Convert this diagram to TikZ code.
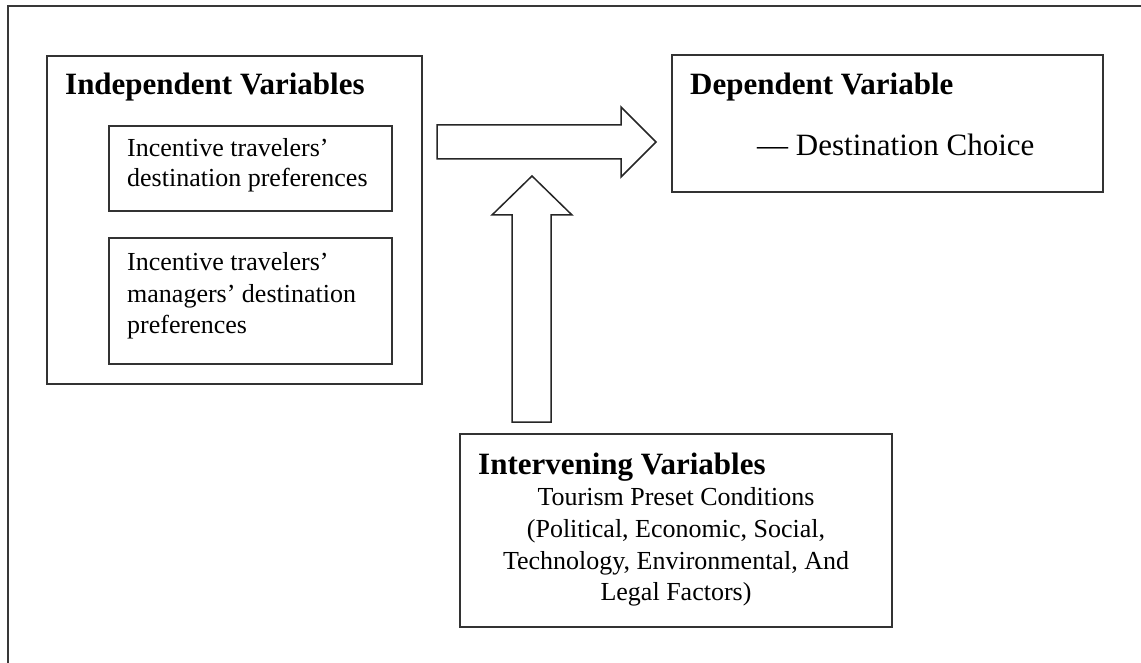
\documentclass[tikz,border=0pt]{standalone}
\usepackage{fontspec}
\setmainfont{Liberation Serif}
\begin{document}
\begin{tikzpicture}[x=1pt,y=-1pt,
  frameline/.style={draw=black!78, line width=1.6pt},
  boxsty/.style={draw=black!80, line width=1.6pt, anchor=north west, inner sep=0pt},
  arrowsty/.style={draw=black!85, line width=1.5pt, line join=miter, fill=white},
  titlesty/.style={anchor=base west, inner sep=0pt, font=\bfseries\fontsize{31}{31}\selectfont},
  bodytxt/.style={anchor=base west, inner sep=0pt, font=\fontsize{26}{30}\selectfont},
  ivtxt/.style={anchor=base, inner sep=0pt, font=\fontsize{26}{32}\selectfont},
  deptxt/.style={anchor=base west, inner sep=0pt, font=\fontsize{31}{31}\selectfont}]
\useasboundingbox (0,0) rectangle (1141,663);
% outer frame (top and left only)
\draw[frameline] (8,663) -- (8,6) -- (1141,6);
% Independent variables
\node[boxsty, minimum width=375pt, minimum height=328pt] (indep) at (46,55) {};
\node[titlesty] (indeptitle) at (65,95) {Independent Variables};
\node[boxsty, minimum width=283pt, minimum height=85pt] (pref1) at (108,125) {};
\node[bodytxt] (p1a) at (127,157) {Incentive travelers’};
\node[bodytxt] (p1b) at (127,187) {destination preferences};
\node[boxsty, minimum width=283pt, minimum height=126pt] (pref2) at (108,237) {};
\node[bodytxt] (p2a) at (127,271) {Incentive travelers’};
\node[bodytxt] (p2b) at (127,302) {managers’ destination};
\node[bodytxt] (p2c) at (127,333) {preferences};
% Dependent variable
\node[boxsty, minimum width=431pt, minimum height=137pt] (dep) at (671,54) {};
\node[titlesty] (deptitle) at (690,95) {Dependent Variable};
\node[deptxt] (depchoice) at (757,156) {— Destination Choice};
% Intervening variables
\node[boxsty, minimum width=432pt, minimum height=193pt] (interv) at (459,433) {};
\node[titlesty] (ivtitle) at (478,474) {Intervening Variables};
\node[ivtxt] (iv1) at (676,505) {Tourism Preset Conditions};
\node[ivtxt] (iv2) at (676,537) {(Political, Economic, Social,};
\node[ivtxt] (iv3) at (676,569) {Technology, Environmental, And};
\node[ivtxt] (iv4) at (676,600) {Legal Factors)};
% block arrows
\draw[arrowsty] (437,125) -- (621,125) -- (621,107) -- (656,142) -- (621,177) -- (621,159) -- (437,159) -- cycle;
\draw[arrowsty] (512,422) -- (512,215) -- (492,215) -- (532,176) -- (572,215) -- (551,215) -- (551,422) -- cycle;
\end{tikzpicture}
\end{document}
